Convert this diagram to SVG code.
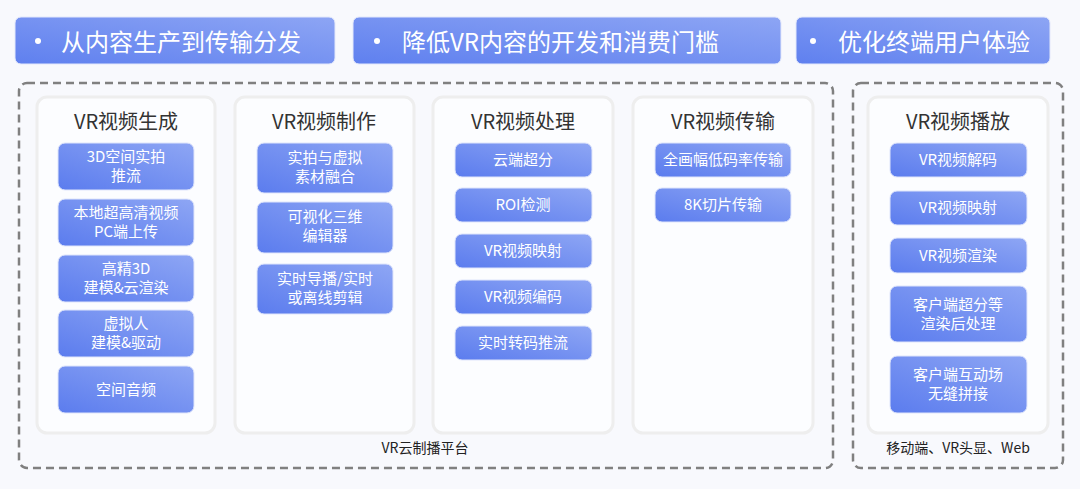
<svg xmlns="http://www.w3.org/2000/svg" width="1080" height="489" viewBox="0 0 1080 489">
<defs>
<linearGradient id="gBan" x1="0" y1="1" x2="1" y2="0">
<stop offset="0" stop-color="#5f80ef"/>
<stop offset="1" stop-color="#8da5f4"/>
</linearGradient>
<linearGradient id="gBox" x1="0" y1="1" x2="1" y2="0">
<stop offset="0" stop-color="#5b7cee"/>
<stop offset="1" stop-color="#8ea6f4"/>
</linearGradient>
<style>
text{font-family:"Noto Sans CJK SC","Noto Sans",sans-serif;}
.ban{fill:url(#gBan);stroke:#e3e8fb;stroke-width:1}
.bt{fill:#fff;font-size:24px}
.dot{fill:#fff}
.dash{fill:none;stroke:#808080;stroke-width:2.5;stroke-dasharray:8 5}
.card{fill:#fcfdff;stroke:#eeeeee;stroke-width:3}
.title{fill:#333;font-size:20px;text-anchor:middle}
.box{fill:url(#gBox);stroke:#dfe5fb;stroke-width:1}
.bx{fill:#fff;font-size:15px;text-anchor:middle}
.lbl{fill:#222;font-size:14px;text-anchor:middle}
</style>
</defs>
<rect width="1080" height="489" fill="#f8f9fd"/>

<g id="banners">
<g id="banner1"><rect class="ban" x="15" y="17" width="320" height="47" rx="6"/><circle class="dot" cx="38" cy="41" r="3"/><text class="bt" x="61" y="51">从内容生产到传输分发</text></g>
<g id="banner2"><rect class="ban" x="353" y="17" width="428" height="47" rx="6"/><circle class="dot" cx="377" cy="41" r="3"/><text class="bt" x="402" y="51">降低VR内容的开发和消费门槛</text></g>
<g id="banner3"><rect class="ban" x="796" y="17" width="254" height="47" rx="6"/><circle class="dot" cx="813" cy="41" r="3"/><text class="bt" x="838" y="51">优化终端用户体验</text></g>
</g>

<g id="platform">
<rect class="dash" x="19" y="83" width="814" height="385" rx="8"/>
<text class="lbl" x="425" y="453">VR云制播平台</text>
</g>
<g id="terminal">
<rect class="dash" x="853" y="83" width="210" height="385" rx="8"/>
<text class="lbl" x="958" y="453">移动端、VR头显、Web</text>
</g>

<g id="col-gen">
<rect class="card" x="37" y="97" width="178" height="336" rx="10"/>
<text class="title" x="126" y="129">VR视频生成</text>
<rect class="box" x="58" y="143" width="136" height="47" rx="7"/>
<text class="bx" x="126" y="162">3D空间实拍</text><text class="bx" x="126" y="181">推流</text>
<rect class="box" x="58" y="199" width="136" height="47" rx="7"/>
<text class="bx" x="126" y="218">本地超高清视频</text><text class="bx" x="126" y="237">PC端上传</text>
<rect class="box" x="58" y="255" width="136" height="47" rx="7"/>
<text class="bx" x="126" y="274">高精3D</text><text class="bx" x="126" y="293">建模&amp;云渲染</text>
<rect class="box" x="58" y="310" width="136" height="47" rx="7"/>
<text class="bx" x="126" y="329">虚拟人</text><text class="bx" x="126" y="348">建模&amp;驱动</text>
<rect class="box" x="58" y="366" width="136" height="47" rx="7"/>
<text class="bx" x="126" y="395">空间音频</text>
</g>

<g id="col-make">
<rect class="card" x="235" y="97" width="179" height="336" rx="10"/>
<text class="title" x="324" y="129">VR视频制作</text>
<rect class="box" x="257" y="143" width="136" height="50" rx="7"/>
<text class="bx" x="325" y="163">实拍与虚拟</text><text class="bx" x="325" y="182">素材融合</text>
<rect class="box" x="257" y="202" width="136" height="51" rx="7"/>
<text class="bx" x="325" y="222">可视化三维</text><text class="bx" x="325" y="241">编辑器</text>
<rect class="box" x="257" y="264" width="136" height="50" rx="7"/>
<text class="bx" x="325" y="284">实时导播/实时</text><text class="bx" x="325" y="303">或离线剪辑</text>
</g>

<g id="col-proc">
<rect class="card" x="433" y="97" width="180" height="336" rx="10"/>
<text class="title" x="523" y="129">VR视频处理</text>
<rect class="box" x="455" y="143" width="137" height="34" rx="7"/>
<text class="bx" x="523" y="165">云端超分</text>
<rect class="box" x="455" y="188" width="137" height="34" rx="7"/>
<text class="bx" x="523" y="210">ROI检测</text>
<rect class="box" x="455" y="234" width="137" height="34" rx="7"/>
<text class="bx" x="523" y="256">VR视频映射</text>
<rect class="box" x="455" y="280" width="137" height="34" rx="7"/>
<text class="bx" x="523" y="302">VR视频编码</text>
<rect class="box" x="455" y="326" width="137" height="34" rx="7"/>
<text class="bx" x="523" y="348">实时转码推流</text>
</g>

<g id="col-trans">
<rect class="card" x="633" y="97" width="180" height="336" rx="10"/>
<text class="title" x="723" y="129">VR视频传输</text>
<rect class="box" x="655" y="143" width="136" height="34" rx="7"/>
<text class="bx" x="723" y="165">全画幅低码率传输</text>
<rect class="box" x="655" y="188" width="136" height="34" rx="7"/>
<text class="bx" x="723" y="210">8K切片传输</text>
</g>

<g id="col-play">
<rect class="card" x="868" y="97" width="180" height="336" rx="10"/>
<text class="title" x="958" y="129">VR视频播放</text>
<rect class="box" x="890" y="143" width="137" height="34" rx="7"/>
<text class="bx" x="958" y="165">VR视频解码</text>
<rect class="box" x="890" y="191" width="137" height="34" rx="7"/>
<text class="bx" x="958" y="213">VR视频映射</text>
<rect class="box" x="890" y="238" width="137" height="35" rx="7"/>
<text class="bx" x="958" y="261">VR视频渲染</text>
<rect class="box" x="890" y="286" width="137" height="56" rx="7"/>
<text class="bx" x="958" y="310">客户端超分等</text><text class="bx" x="958" y="329">渲染后处理</text>
<rect class="box" x="890" y="356" width="137" height="57" rx="7"/>
<text class="bx" x="958" y="380">客户端互动场</text><text class="bx" x="958" y="399">无缝拼接</text>
</g>

<g id="connectors"></g>
</svg>
